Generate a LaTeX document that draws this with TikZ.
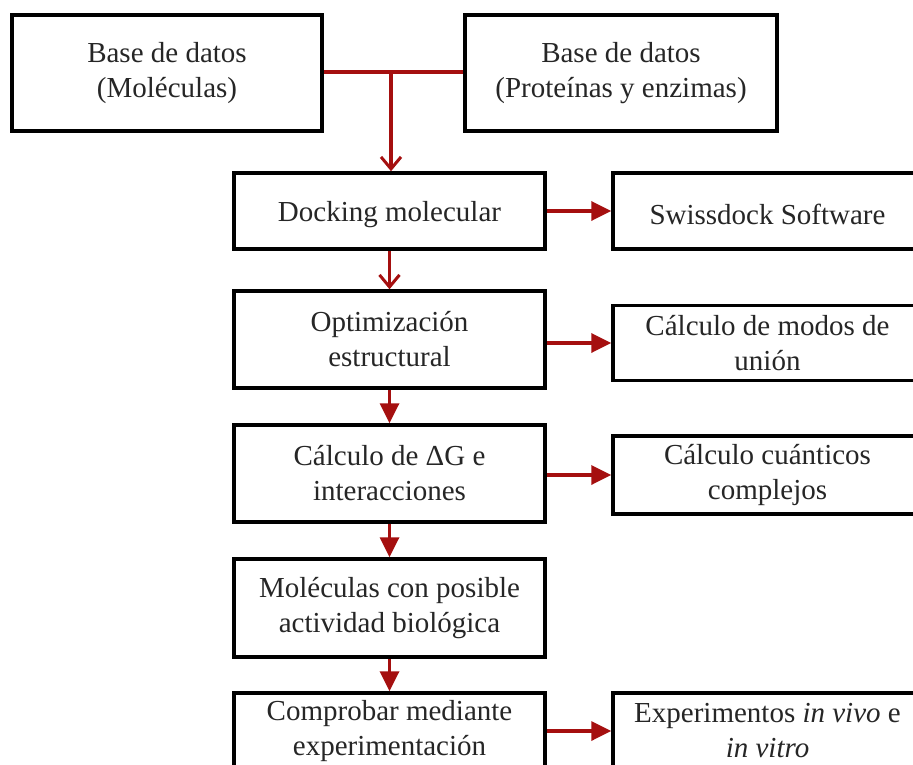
\documentclass[tikz,border=0pt]{standalone}
\usepackage{fontspec}
\setmainfont{Liberation Serif}
\usetikzlibrary{arrows.meta}
\definecolor{arr}{RGB}{165,15,15}
\begin{document}
\begin{tikzpicture}[x=1pt,y=-1pt,
  box/.style={draw=black, line width=3.5pt, align=center, inner sep=0pt,
    font=\fontsize{29}{35}\selectfont, text=black!85, fill=white,
    execute at begin node={\rule{0pt}{28pt}}},
  lbox/.style={box, minimum width=311pt},
  rbox/.style={box, minimum width=309pt},
  link/.style={draw=arr, line width=3.5pt},
  openhead/.style={link, -{Straight Barb[length=12pt,width=20pt,line width=3pt]}},
  fullhead/.style={link, -{Triangle[length=20pt,width=19pt]}}
]
\useasboundingbox (0,0) rectangle (913,765);
\clip (0,0) rectangle (913,765);

\node[box, minimum width=310pt, minimum height=116pt] (A) at (167,73) {Base de datos\\(Moléculas)};
\node[box, minimum width=312pt, minimum height=116pt] (B) at (621,73) {Base de datos\\(Proteínas y enzimas)};

\node[lbox, minimum height=76pt] (dock) at (389.5,211) {Docking molecular};
\node[rbox, minimum height=76pt] (swiss) at (767.5,211) {Swissdock Software};

\node[lbox, minimum height=97pt] (opt) at (389.5,339.5) {Optimización\\estructural};
\node[rbox, minimum height=75pt] (modos) at (767.5,343) {Cálculo de modos de\\unión};

\node[lbox, minimum height=97pt] (dg) at (389.5,473.5) {Cálculo de ΔG e\\interacciones};
\node[rbox, minimum height=78pt] (cuant) at (767.5,475) {Cálculo cuánticos\\complejos};

\node[lbox, minimum height=98pt] (mol) at (389.5,608) {Moléculas con posible\\actividad biológica};

\node[lbox, minimum height=76pt] (comp) at (389.5,731) {Comprobar mediante\\experimentación};
\node[rbox, minimum height=76pt] (exp) at (767.5,731) {Experimentos \textit{in vivo} e\\\textit{in vitro}};

\coordinate (j) at (391,72);
\draw[link] (A.east |- j) -- (B.west |- j);
\draw[openhead] (j) -- (j |- dock.north);
\draw[openhead] (dock.south) -- (opt.north);
\draw[fullhead] (opt.south) -- (dg.north);
\draw[fullhead] (dg.south) -- (mol.north);
\draw[fullhead] (mol.south) -- (comp.north);

\draw[fullhead] (dock.east) -- (swiss.west);
\draw[fullhead] (modos.west -| opt.east) -- (modos.west);
\draw[fullhead] (cuant.west -| dg.east) -- (cuant.west);
\draw[fullhead] (comp.east) -- (exp.west);
\end{tikzpicture}
\end{document}
